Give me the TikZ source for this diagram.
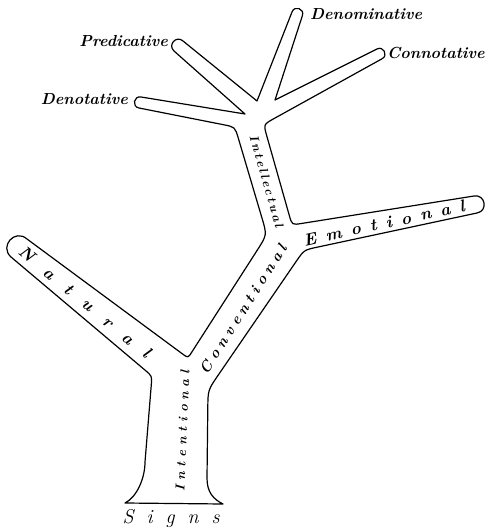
\documentclass[tikz,border=0pt]{standalone}
\usepackage{fontspec}
\usetikzlibrary{calc}

% letter-spaced word: \spacedword{gap}{letters}
\makeatletter
\newcommand\spacedword[2]{\begingroup\def\sw@gap{\kern#1}\sw@loop#2\@nil\endgroup}
\def\sw@loop#1#2\@nil{#1\ifx\relax#2\relax\else\sw@gap\sw@loop#2\@nil\fi}
\makeatother

% heavy italic lettering
\newcommand\heavyit[1]{\fontsize{#1}{#1}\selectfont\bfseries\itshape\addfontfeatures{FakeBold=0.8}}

\begin{document}
\begin{tikzpicture}[x=1pt,y=-1pt,
  outline/.style={draw=black, line width=1.2pt, line join=round},
  toplabel/.style={font=\heavyit{16}\addfontfeatures{FakeStretch=0.92}, inner sep=0pt},
  branchlabel/.style={inner sep=0pt}]
\path[use as bounding box, fill=white] (0,0) rectangle (487,529);

% outline points of the tree
\coordinate (bl) at (125,503);
\coordinate (lt1) at (145,462);
\coordinate (kL) at (152,376);
\coordinate (nat1) at (11,257);
\coordinate (nat2) at (27,239);
\coordinate (crNC) at (188,358);
\coordinate (bendL) at (267,235);
\coordinate (kD) at (235,127);
\coordinate (den1) at (139,108);
\coordinate (den2) at (141,97);
\coordinate (crDP) at (245,114);
\coordinate (pre1) at (174,51);
\coordinate (pre2) at (183,41);
\coordinate (crPM) at (257,101);
\coordinate (nom1) at (292,12);
\coordinate (nom2) at (302.4,15.6);
\coordinate (crMC) at (275,100);
\coordinate (con1) at (377,49);
\coordinate (con2) at (382,58.8);
\coordinate (kC) at (263.5,124.4);
\coordinate (kE) at (292,225);
\coordinate (emo1) at (474,196);
\coordinate (emo2) at (477,213);
\coordinate (crEC) at (304,250);
\coordinate (kT) at (208,390);
\coordinate (rt1) at (207,478);
\coordinate (br) at (223,504);

\draw[outline]
  (bl) .. controls (137,497) and (145,478) .. (lt1)
  -- ($(kL)!9pt!(lt1)$) .. controls (kL) .. ($(kL)!9pt!(nat1)$)
  -- (nat1) .. controls ($(nat1)!0.667!90:(nat2)$) and ($(nat2)!0.667!-90:(nat1)$) .. (nat2)
  -- ($(crNC)!7pt!(nat2)$) .. controls (crNC) .. ($(crNC)!7pt!(bendL)$)
  -- ($(bendL)!18pt!(crNC)$) .. controls (bendL) .. ($(bendL)!18pt!(kD)$)
  -- ($(kD)!12pt!(bendL)$) .. controls (kD) .. ($(kD)!12pt!(den1)$)
  -- (den1) .. controls ($(den1)!0.667!90:(den2)$) and ($(den2)!0.667!-90:(den1)$) .. (den2)
  -- (crDP)
  -- (pre1) .. controls ($(pre1)!0.667!90:(pre2)$) and ($(pre2)!0.667!-90:(pre1)$) .. (pre2)
  -- (crPM)
  -- (nom1) .. controls ($(nom1)!0.667!90:(nom2)$) and ($(nom2)!0.667!-90:(nom1)$) .. (nom2)
  -- (crMC)
  -- (con1) .. controls ($(con1)!0.667!90:(con2)$) and ($(con2)!0.667!-90:(con1)$) .. (con2)
  -- ($(kC)!12pt!(con2)$) .. controls (kC) .. ($(kC)!12pt!(kE)$)
  -- ($(kE)!10pt!(kC)$) .. controls (kE) .. ($(kE)!10pt!(emo1)$)
  -- (emo1) .. controls ($(emo1)!0.667!90:(emo2)$) and ($(emo2)!0.667!-90:(emo1)$) .. (emo2)
  -- ($(crEC)!14pt!(emo2)$) .. controls (crEC) .. ($(crEC)!14pt!(kT)$)
  -- ($(kT)!18pt!(crEC)$) .. controls (kT) .. ($(kT)!18pt!(rt1)$)
  -- (rt1) .. controls (207,492) and (213,499) .. (br)
  -- cycle;

% labels at the twig ends
\node[toplabel, anchor=base west] (denominative) at (310,20) {Denominative};
\node[toplabel, anchor=base west] (connotative) at (387,59) {Connotative};
\node[toplabel, anchor=base east] (predicative) at (168,47) {Predicative};
\node[toplabel, anchor=base east] (denotative) at (128,105) {Denotative};

% labels along the branches
\node[branchlabel, font=\heavyit{17}, rotate=-39.5] (natural) at (85,302) {\spacedword{16.6pt}{Natural}};
\node[branchlabel, font=\heavyit{17}, rotate=12.25] (emotional) at (384,223) {\spacedword{9.6pt}{Emotional}};
\node[branchlabel, font=\heavyit{15}, rotate=57.6] (conventional) at (243,309) {\spacedword{4.6pt}{Conventional}};
\node[branchlabel, font=\heavyit{12.5}, rotate=-74] (intellectual) at (266.5,181) {\spacedword{2.3pt}{Intellectual}};
\node[branchlabel, font=\heavyit{13}, rotate=87.6] (intentional) at (182.5,431) {\spacedword{4.9pt}{Intentional}};
\node[branchlabel, font={\fontsize{20}{20}\selectfont\itshape\addfontfeatures{FakeBold=0.6}}, anchor=base] (signs) at (171,523) {\spacedword{13pt}{Signs}};
\end{tikzpicture}
\end{document}
